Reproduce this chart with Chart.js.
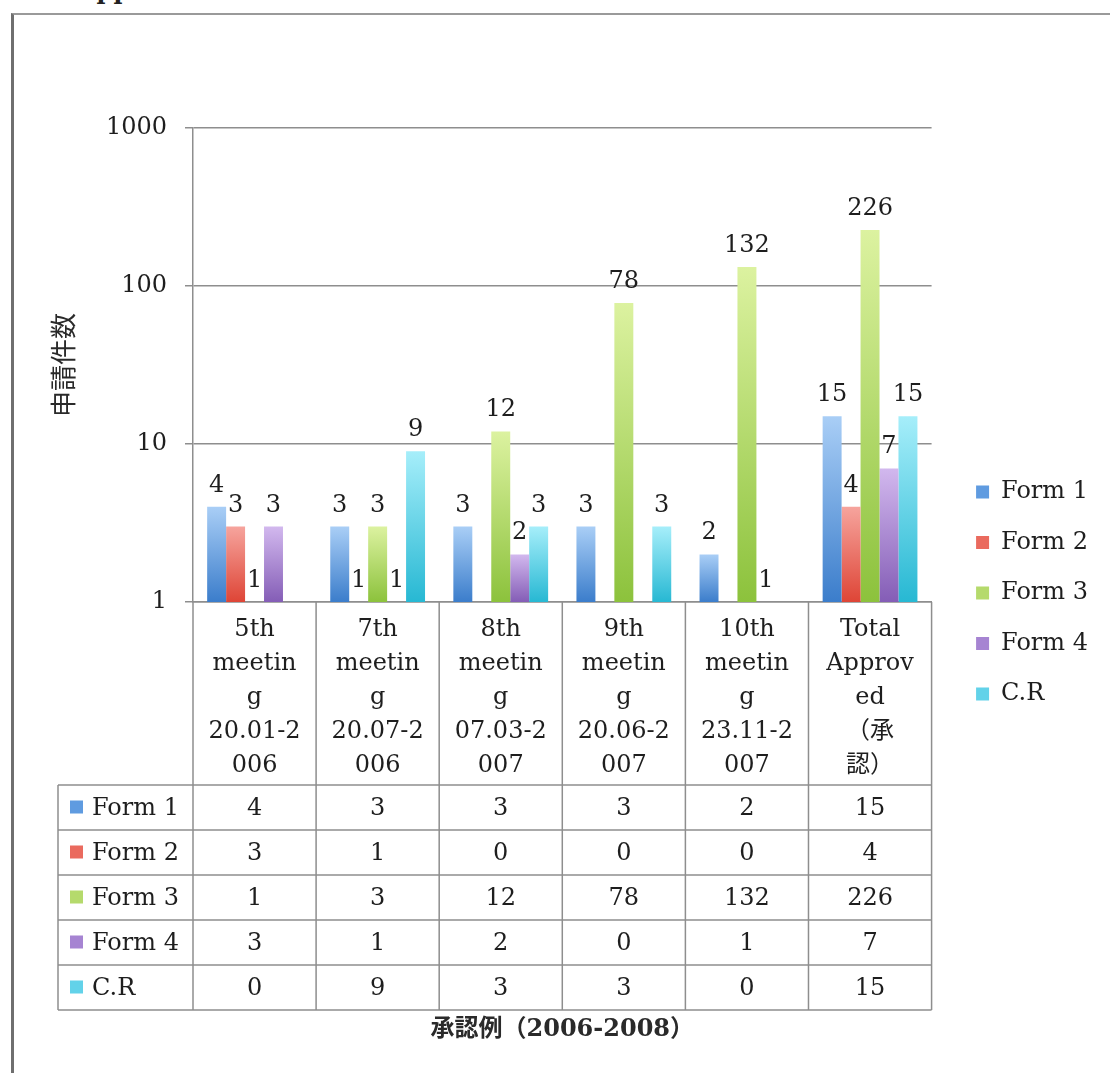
<!DOCTYPE html>
<html>
<head>
<meta charset="utf-8">
<script src="https://cdn.jsdelivr.net/npm/chart.js@4.4.1/dist/chart.umd.min.js"></script>
<style>
  html, body { margin: 0; padding: 0; background: #fff; }
  body { width: 1110px; height: 1073px; position: relative; overflow: hidden; }
  #frame { position: absolute; left: 11px; top: 13px; width: 1200px; height: 1200px;
           border-left: 3px solid #6f6f6f; border-top: 2px solid #9a9a9a; }
  #cut { position: absolute; left: 78px; top: -24px; line-height: 28px;
         font: bold 24px "DejaVu Serif"; color: #222; }
  canvas { position: absolute; left: 0; top: 0; }
</style>
</head>
<body>
<div id="cut">Approved</div>
<div id="frame"></div>
<canvas id="chart" width="1110" height="1073"></canvas>
<script>
// fonts / colours
const serif = '"DejaVu Serif", "Noto Sans CJK JP", serif';
const cjk = '"Noto Sans CJK JP", sans-serif';
const textColor = '#1e1e1e';
const lineColor = '#8e8e8e';

// data
const categories = [
    ['5th', 'meetin', 'g', '20.01-2', '006'],
    ['7th', 'meetin', 'g', '20.07-2', '006'],
    ['8th', 'meetin', 'g', '07.03-2', '007'],
    ['9th', 'meetin', 'g', '20.06-2', '007'],
    ['10th', 'meetin', 'g', '23.11-2', '007'],
    ['Total', 'Approv', 'ed', '（承', '認）']
];
const seriesNames = ['Form 1', 'Form 2', 'Form 3', 'Form 4', 'C.R'];
const form1 = [4, 3, 3, 3, 2, 15];
const form2 = [3, 1, 0, 0, 0, 4];
const form3 = [1, 3, 12, 78, 132, 226];
const form4 = [3, 1, 2, 0, 1, 7];
const formCR = [0, 9, 3, 3, 0, 15];
const seriesData = [form1, form2, form3, form4, formCR];
const yTicks = [1, 10, 100, 1000];

// bar colours (light top -> dark bottom)
const colorTop = ['#a9cef6', '#f6a49d', '#dcf2a0', '#d2b8ee', '#a6eefa'];
const colorBottom = ['#3b7dcb', '#de4536', '#8cc23c', '#845db6', '#27b8d3'];
const colorMid = ['#5f9be0', '#ea6a5e', '#b5da6c', '#a684d2', '#62d2e9'];

// table geometry
const headerH = 183;
const rowH = 45;
const tableLeft = 58;

function barFill(i) {
    return (c) => {
        const chart = c.chart;
        if (c.type !== 'data' || !chart.chartArea) return colorMid[i];
        const y = chart.scales.y;
        const top = y.getPixelForValue(c.raw);
        const base = y.getPixelForValue(1);
        if (!isFinite(top) || base - top < 1) return colorMid[i];
        const g = chart.ctx.createLinearGradient(0, top, 0, base);
        g.addColorStop(0, colorTop[i]);
        g.addColorStop(1, colorBottom[i]);
        return g;
    };
}

// numbers above the bars
const valueLabels = {
    id: 'valueLabels',
    afterDatasetsDraw(chart) {
        const ctx = chart.ctx;
        ctx.save();
        ctx.font = '24px ' + serif;
        ctx.fillStyle = textColor;
        ctx.textAlign = 'center';
        ctx.textBaseline = 'alphabetic';
        chart.data.datasets.forEach((ds, i) => {
            chart.getDatasetMeta(i).data.forEach((bar, j) => {
                const v = ds.data[j];
                if (!v) return;
                ctx.fillText(String(v), bar.x, bar.y - 15);
            });
        });
        ctx.restore();
    }
};

// data table under the x axis
const dataTable = {
    id: 'dataTable',
    afterDraw(chart) {
        const { ctx, chartArea } = chart;
        const x = chart.scales.x;
        const n = categories.length;
        const colW = x.width / n;
        const top = chartArea.bottom;
        const headBottom = top + headerH;
        const bottom = headBottom + rowH * seriesData.length;

        ctx.save();
        ctx.strokeStyle = lineColor;
        ctx.lineWidth = 1.5;
        ctx.beginPath();
        for (let i = 0; i <= n; i++) {
            const px = x.left + colW * i;
            ctx.moveTo(px, top);
            ctx.lineTo(px, bottom);
        }
        for (let r = 0; r <= seriesData.length; r++) {
            const py = headBottom + rowH * r;
            ctx.moveTo(tableLeft, py);
            ctx.lineTo(x.right, py);
        }
        ctx.moveTo(tableLeft, headBottom);
        ctx.lineTo(tableLeft, bottom);
        ctx.stroke();

        ctx.font = '24px ' + serif;
        ctx.fillStyle = textColor;
        ctx.textBaseline = 'middle';
        seriesData.forEach((vals, r) => {
            const cy = headBottom + rowH * (r + 0.5) + 1;
            ctx.fillStyle = colorMid[r];
            ctx.fillRect(tableLeft + 12, cy - 8, 13, 13);
            ctx.fillStyle = textColor;
            ctx.textAlign = 'left';
            ctx.fillText(seriesNames[r], tableLeft + 34, cy);
            ctx.textAlign = 'center';
            vals.forEach((v, c) => {
                ctx.fillText(String(v), x.left + colW * (c + 0.5), cy);
            });
        });
        ctx.restore();
    }
};

const datasets = seriesNames.map((name, i) => ({
    label: name,
    data: seriesData[i],
    backgroundColor: barFill(i),
    borderWidth: 0,
    categoryPercentage: 0.77,
    barPercentage: 1
}));

new Chart(document.getElementById('chart').getContext('2d'), {
    type: 'bar',
    data: { labels: categories, datasets: datasets },
    plugins: [valueLabels, dataTable],
    options: {
        responsive: false,
        animation: false,
        layout: { padding: { left: 12, top: 128, right: 12, bottom: 15 } },
        plugins: {
            tooltip: { enabled: false },
            legend: {
                position: 'right',
                labels: {
                    boxWidth: 13,
                    boxHeight: 13,
                    padding: 26.5,
                    color: textColor,
                    font: { family: serif, size: 24 },
                    generateLabels(chart) {
                        const items = Chart.defaults.plugins.legend.labels.generateLabels(chart);
                        items.forEach((it, i) => {
                            it.fillStyle = colorMid[i];
                            it.strokeStyle = colorMid[i];
                            it.lineWidth = 0;
                        });
                        return items;
                    }
                }
            }
        },
        scales: {
            x: {
                grid: { display: false, drawTicks: false },
                border: { display: true, color: lineColor, width: 1.5 },
                ticks: {
                    color: textColor,
                    font: { family: serif, size: 24, lineHeight: 1.41 },
                    padding: 11,
                    maxRotation: 0,
                    autoSkip: false
                },
                title: {
                    display: true,
                    text: '承認例（2006-2008）',
                    color: '#2a2a2a',
                    font: { family: serif, size: 24, weight: 'bold' },
                    padding: { top: 0, bottom: 13.6 }
                },
                afterFit(s) {
                    s.height = headerH + rowH * seriesData.length + 48;
                }
            },
            y: {
                type: 'logarithmic',
                min: 1,
                max: 1000,
                afterBuildTicks(s) {
                    s.ticks = yTicks.map(v => ({ value: v }));
                },
                afterFit(s) {
                    s.width = 181;
                },
                grid: { color: lineColor, lineWidth: 1.5, tickLength: 8 },
                border: { color: lineColor, width: 1.5 },
                ticks: {
                    color: textColor,
                    font: { family: serif, size: 24 },
                    padding: 18,
                    callback: v => String(v)
                },
                title: {
                    display: true,
                    text: '申請件数',
                    color: '#2a2a2a',
                    font: { family: cjk, size: 26 },
                    padding: { top: 36, bottom: 0 }
                }
            },
            gap: {
                type: 'linear',
                position: 'right',
                display: true,
                grid: { display: false, drawTicks: false },
                border: { display: false },
                ticks: { display: false },
                afterFit(s) {
                    s.width = 18;
                }
            }
        }
    }
});
</script>
</body>
</html>
